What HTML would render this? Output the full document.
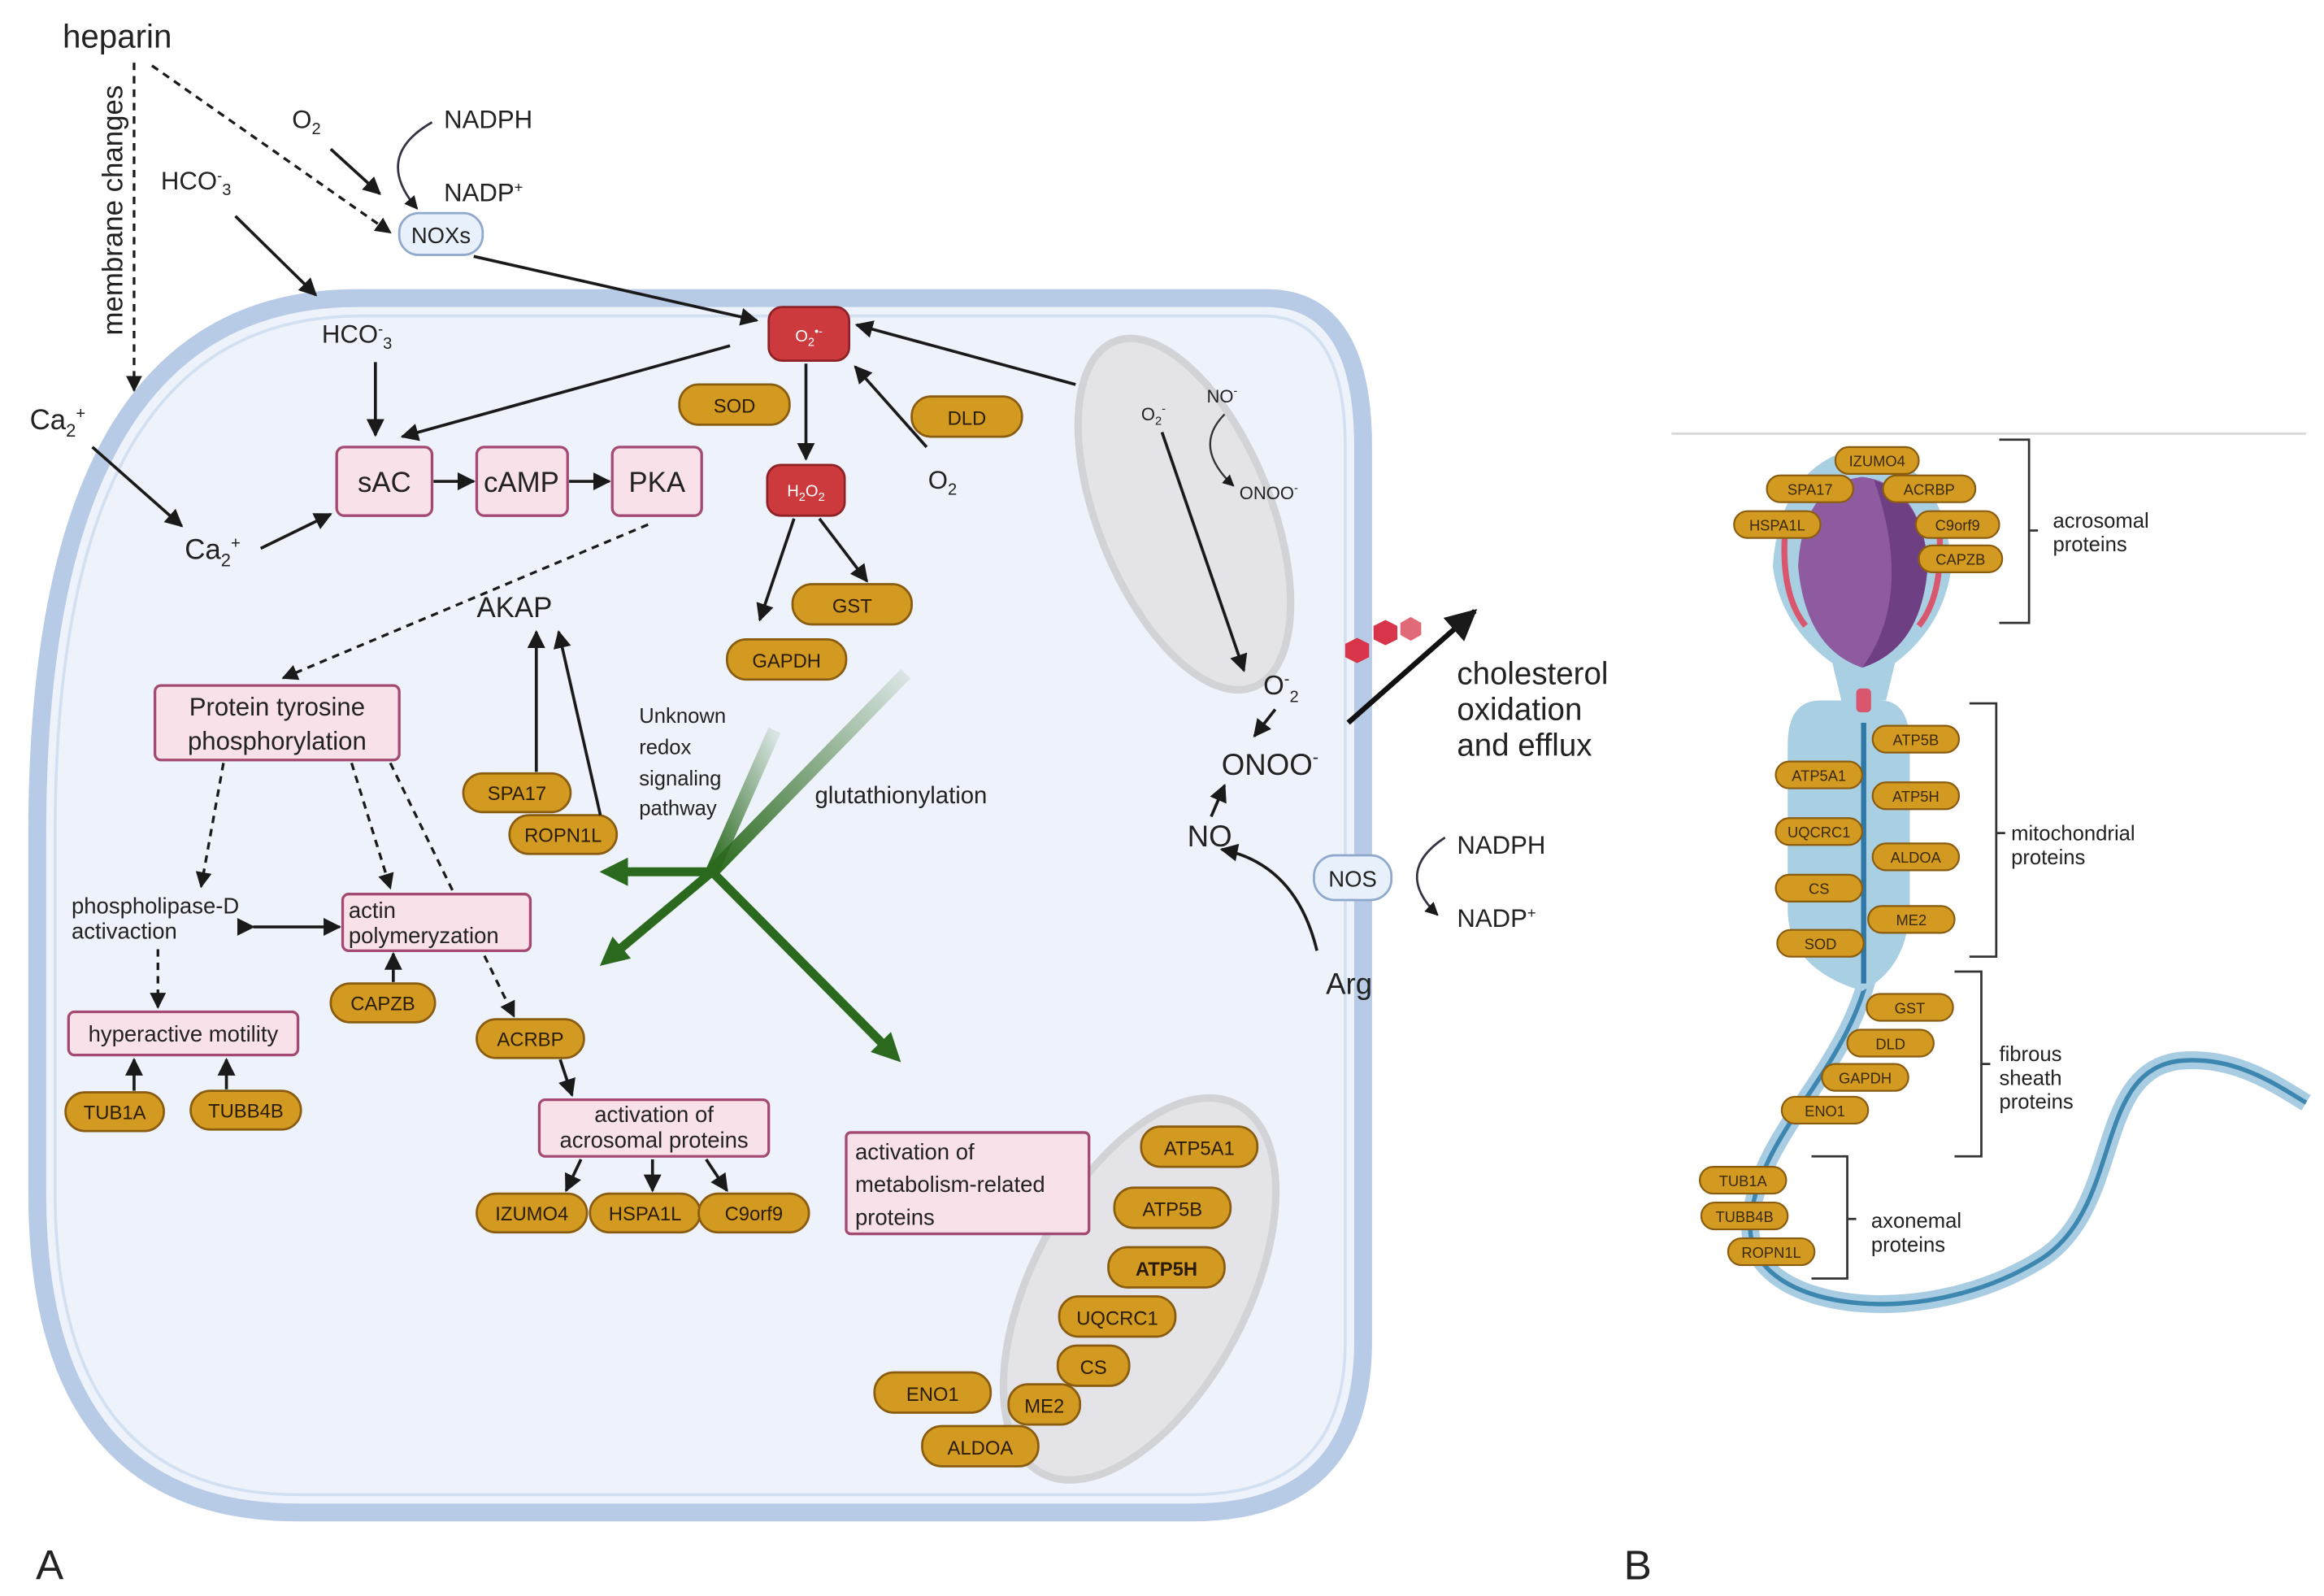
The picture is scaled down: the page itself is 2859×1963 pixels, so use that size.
<!DOCTYPE html>
<html><head><meta charset="utf-8"><style>
html,body{margin:0;padding:0;background:#fff}
svg{display:block}
text{font-family:"Liberation Sans",sans-serif;fill:#222}
.pill{fill:#d39a22;stroke:#8a5c10;stroke-width:1.5}
.pt{font-size:13px;text-anchor:middle;fill:#2a1c05}
.pk{fill:#f9e1ea;stroke:#a44a72;stroke-width:1.8}
.ar{stroke:#1a1a1a;stroke-width:2;fill:none;marker-end:url(#ah)}
.da{stroke:#1a1a1a;stroke-width:1.8;fill:none;stroke-dasharray:5,4;marker-end:url(#ah)}
.sp{fill:#d39a22;stroke:#8a5c10;stroke-width:1.2}
.st{font-size:10px;text-anchor:middle;fill:#3a2a08}
</style></head><body>
<svg width="2859" height="1963" viewBox="0 0 1560 1071" xmlns="http://www.w3.org/2000/svg">
<defs>
<marker id="ah" viewBox="0 0 10 10" refX="9" refY="5" markerWidth="6" markerHeight="6" orient="auto"><path d="M0,0 L10,5 L0,10 z" fill="#1a1a1a"/></marker>
<marker id="gh" viewBox="0 0 10 10" refX="5" refY="5" markerWidth="3.2" markerHeight="3.2" orient="auto"><path d="M0,0 L10,5 L0,10 z" fill="#2b6a1e"/></marker>
<linearGradient id="g1" x1="0" y1="1" x2="1" y2="0"><stop offset="0" stop-color="#2b6a1e"/><stop offset="1" stop-color="#2b6a1e" stop-opacity="0.1"/></linearGradient>
</defs>

<!-- cell -->
<path d="M240,200 L850,200 Q915,200 915,300 L915,900 Q915,1015 800,1015 L200,1015 Q25,1015 25,800 L25,560 Q25,200 240,200 Z" fill="#eef3fb" stroke="#b7cbe6" stroke-width="12"/>
<path d="M242,212 L848,212 Q903,212 903,300 L903,900 Q903,1003 800,1003 L200,1003 Q37,1003 37,800 L37,560 Q37,212 242,212 Z" fill="none" stroke="#d3e0f1" stroke-width="2"/>

<!-- mitochondria -->
<ellipse cx="795" cy="345" rx="58" ry="125" transform="rotate(-22 795 345)" fill="#e3e3e6" stroke="#d0d0d3" stroke-width="5" opacity="0.9"/>
<ellipse cx="765" cy="865" rx="72" ry="140" transform="rotate(28 765 865)" fill="#e3e3e6" stroke="#d0d0d3" stroke-width="5" opacity="0.9"/>

<!-- top text -->
<text x="42" y="32" font-size="22">heparin</text>
<text x="0" y="0" font-size="19" transform="translate(82,225) rotate(-90)">membrane changes</text>
<line x1="90" y1="42" x2="90" y2="262" class="da"/>
<line x1="102" y1="44" x2="262" y2="156" class="da"/>
<text x="196" y="86" font-size="17">O<tspan font-size="11" dy="4">2</tspan></text>
<line x1="222" y1="100" x2="255" y2="130" class="ar"/>
<text x="298" y="86" font-size="17">NADPH</text>
<text x="298" y="135" font-size="17">NADP<tspan font-size="10" dy="-6">+</tspan></text>
<path d="M290,82 Q250,105 280,140" stroke="#334" stroke-width="1.5" fill="none" marker-end="url(#ah)"/>
<rect x="268" y="143" width="56" height="28" rx="13" fill="#e8f0fb" stroke="#8fa8cc" stroke-width="1.5"/>
<text x="296" y="163" font-size="15" text-anchor="middle">NOXs</text>
<text x="108" y="127" font-size="17">HCO<tspan font-size="10" dy="-6">-</tspan><tspan font-size="11" dy="10">3</tspan></text>
<line x1="158" y1="145" x2="212" y2="198" class="ar"/>
<line x1="318" y1="172" x2="508" y2="215" class="ar"/>
<text x="216" y="230" font-size="17">HCO<tspan font-size="10" dy="-6">-</tspan><tspan font-size="11" dy="10">3</tspan></text>
<line x1="252" y1="243" x2="252" y2="292" class="ar"/>
<text x="20" y="288" font-size="19">Ca<tspan font-size="12" dy="5">2</tspan><tspan font-size="11" dy="-12">+</tspan></text>
<line x1="62" y1="300" x2="122" y2="353" class="ar"/>
<text x="124" y="375" font-size="19">Ca<tspan font-size="12" dy="5">2</tspan><tspan font-size="11" dy="-12">+</tspan></text>
<line x1="175" y1="368" x2="222" y2="345" class="ar"/>

<!-- sAC cAMP PKA -->
<rect x="226" y="300" width="64" height="46" rx="5" class="pk"/><text x="258" y="330" font-size="19" text-anchor="middle">sAC</text>
<rect x="320" y="300" width="61" height="46" rx="5" class="pk"/><text x="350" y="330" font-size="19" text-anchor="middle">cAMP</text>
<rect x="411" y="300" width="60" height="46" rx="5" class="pk"/><text x="441" y="330" font-size="19" text-anchor="middle">PKA</text>
<line x1="291" y1="323" x2="318" y2="323" class="ar"/>
<line x1="382" y1="323" x2="409" y2="323" class="ar"/>
<line x1="490" y1="232" x2="270" y2="293" class="ar"/>

<!-- ROS -->
<rect x="516" y="206" width="54" height="36" rx="9" fill="#cc3a3e" stroke="#8e2226" stroke-width="1.5"/>
<text x="543" y="229" font-size="11" text-anchor="middle" style="fill:#fff">O<tspan font-size="8" dy="3">2</tspan><tspan font-size="8" dy="-7">•-</tspan></text>
<rect x="515" y="312" width="52" height="34" rx="9" fill="#cc3a3e" stroke="#8e2226" stroke-width="1.5"/>
<text x="541" y="333" font-size="11" text-anchor="middle" style="fill:#fff">H<tspan font-size="8" dy="3">2</tspan><tspan dy="-3">O</tspan><tspan font-size="8" dy="3">2</tspan></text>
<line x1="541" y1="244" x2="541" y2="308" class="ar"/>
<line x1="533" y1="348" x2="510" y2="416" class="ar"/>
<line x1="550" y1="348" x2="582" y2="390" class="ar"/>
<line x1="622" y1="300" x2="574" y2="246" class="ar"/>
<line x1="722" y1="258" x2="575" y2="218" class="ar"/>
<text x="623" y="328" font-size="17">O<tspan font-size="11" dy="4">2</tspan></text>

<g>
<rect x="456" y="258" width="74" height="27" rx="13" class="pill"/><text x="493" y="277" class="pt">SOD</text>
<rect x="612" y="266" width="74" height="27" rx="13" class="pill"/><text x="649" y="285" class="pt">DLD</text>
<rect x="532" y="392" width="80" height="27" rx="13" class="pill"/><text x="572" y="411" class="pt">GST</text>
<rect x="488" y="429" width="80" height="27" rx="13" class="pill"/><text x="528" y="448" class="pt">GAPDH</text>
<rect x="311" y="519" width="72" height="26" rx="13" class="pill"/><text x="347" y="537" class="pt">SPA17</text>
<rect x="342" y="547" width="72" height="26" rx="13" class="pill"/><text x="378" y="565" class="pt">ROPN1L</text>
<rect x="222" y="660" width="70" height="26" rx="13" class="pill"/><text x="257" y="678" class="pt">CAPZB</text>
<rect x="320" y="684" width="72" height="26" rx="13" class="pill"/><text x="356" y="702" class="pt">ACRBP</text>
<rect x="44" y="733" width="66" height="26" rx="13" class="pill"/><text x="77" y="751" class="pt">TUB1A</text>
<rect x="128" y="732" width="74" height="26" rx="13" class="pill"/><text x="165" y="750" class="pt">TUBB4B</text>
<rect x="320" y="801" width="74" height="26" rx="13" class="pill"/><text x="357" y="819" class="pt">IZUMO4</text>
<rect x="396" y="801" width="74" height="26" rx="13" class="pill"/><text x="433" y="819" class="pt">HSPA1L</text>
<rect x="469" y="801" width="74" height="26" rx="13" class="pill"/><text x="506" y="819" class="pt">C9orf9</text>
<rect x="766" y="756" width="78" height="27" rx="13" class="pill"/><text x="805" y="775" class="pt">ATP5A1</text>
<rect x="748" y="797" width="78" height="27" rx="13" class="pill"/><text x="787" y="816" class="pt">ATP5B</text>
<rect x="744" y="837" width="78" height="27" rx="13" class="pill"/><text x="783" y="856" class="pt" font-weight="bold">ATP5H</text>
<rect x="711" y="870" width="78" height="27" rx="13" class="pill"/><text x="750" y="889" class="pt">UQCRC1</text>
<rect x="710" y="903" width="48" height="27" rx="13" class="pill"/><text x="734" y="922" class="pt">CS</text>
<rect x="677" y="929" width="48" height="27" rx="13" class="pill"/><text x="701" y="948" class="pt">ME2</text>
<rect x="587" y="921" width="78" height="27" rx="13" class="pill"/><text x="626" y="940" class="pt">ENO1</text>
<rect x="619" y="957" width="78" height="27" rx="13" class="pill"/><text x="658" y="976" class="pt">ALDOA</text>
</g>

<!-- AKAP -->
<text x="320" y="414" font-size="19">AKAP</text>
<line x1="360" y1="518" x2="360" y2="424" class="ar"/>
<line x1="403" y1="547" x2="375" y2="424" class="ar"/>
<line x1="435" y1="352" x2="190" y2="455" class="da"/>

<rect x="104" y="460" width="164" height="50" rx="4" class="pk"/>
<text x="186" y="480" font-size="17" text-anchor="middle">Protein tyrosine</text>
<text x="186" y="503" font-size="17" text-anchor="middle">phosphorylation</text>
<line x1="150" y1="512" x2="135" y2="595" class="da"/>
<line x1="236" y1="512" x2="262" y2="596" class="da"/>
<line x1="262" y1="512" x2="345" y2="682" class="da"/>
<text x="48" y="613" font-size="15">phospholipase-D</text>
<text x="48" y="630" font-size="15">activaction</text>
<line x1="170" y1="622" x2="228" y2="622" class="ar" marker-start="url(#ah)"/>
<rect x="230" y="600" width="126" height="38" rx="4" class="pk"/>
<text x="234" y="616" font-size="15">actin</text>
<text x="234" y="633" font-size="15">polymeryzation</text>
<line x1="264" y1="659" x2="264" y2="640" class="ar"/>
<line x1="106" y1="637" x2="106" y2="676" class="da"/>
<rect x="46" y="679" width="154" height="29" rx="4" class="pk"/>
<text x="123" y="699" font-size="15" text-anchor="middle">hyperactive motility</text>
<line x1="90" y1="732" x2="90" y2="711" class="ar"/>
<line x1="152" y1="731" x2="152" y2="711" class="ar"/>
<line x1="376" y1="711" x2="384" y2="735" class="ar"/>
<rect x="362" y="738" width="154" height="38" rx="4" class="pk"/>
<text x="439" y="753" font-size="15" text-anchor="middle">activation of</text>
<text x="439" y="770" font-size="15" text-anchor="middle">acrosomal proteins</text>
<line x1="390" y1="778" x2="380" y2="799" class="ar"/>
<line x1="438" y1="778" x2="438" y2="799" class="ar"/>
<line x1="474" y1="778" x2="488" y2="799" class="ar"/>
<rect x="568" y="760" width="163" height="68" rx="3" class="pk"/>
<text x="574" y="778" font-size="15">activation of</text>
<text x="574" y="800" font-size="15">metabolism-related</text>
<text x="574" y="822" font-size="15">proteins</text>

<!-- green arrows -->
<line x1="478" y1="585" x2="520" y2="490" stroke="url(#g1)" stroke-width="9"/>
<line x1="478" y1="585" x2="608" y2="452" stroke="url(#g1)" stroke-width="9"/>
<line x1="478" y1="585" x2="412" y2="585" stroke="#2b6a1e" stroke-width="6" marker-end="url(#gh)"/>
<line x1="478" y1="585" x2="410" y2="642" stroke="#2b6a1e" stroke-width="6" marker-end="url(#gh)"/>
<line x1="478" y1="585" x2="598" y2="706" stroke="#2b6a1e" stroke-width="6" marker-end="url(#gh)"/>
<text x="429" y="485" font-size="14">Unknown</text>
<text x="429" y="506" font-size="14">redox</text>
<text x="429" y="527" font-size="14">signaling</text>
<text x="429" y="547" font-size="14">pathway</text>
<text x="547" y="539" font-size="16">glutathionylation</text>

<!-- right side -->
<text x="766" y="282" font-size="12">O<tspan font-size="8" dy="3">2</tspan><tspan font-size="8" dy="-8">-</tspan></text>
<text x="810" y="270" font-size="12">NO<tspan font-size="8" dy="-5">-</tspan></text>
<text x="832" y="335" font-size="12">ONOO<tspan font-size="8" dy="-5">-</tspan></text>
<path d="M822,278 Q800,300 828,326" stroke="#333" stroke-width="1.3" fill="none" marker-end="url(#ah)"/>
<line x1="780" y1="290" x2="835" y2="450" class="ar"/>
<text x="848" y="466" font-size="18">O<tspan font-size="11" dy="-7">-</tspan><tspan font-size="11" dy="12">2</tspan></text>
<line x1="856" y1="476" x2="842" y2="494" class="ar"/>
<text x="820" y="520" font-size="20">ONOO<tspan font-size="12" dy="-8">-</tspan></text>
<text x="797" y="568" font-size="20">NO</text>
<line x1="813" y1="548" x2="822" y2="527" class="ar"/>
<path d="M884,638 Q870,580 820,570" class="ar"/>
<text x="890" y="667" font-size="20">Arg</text>
<rect x="882" y="574" width="52" height="30" rx="14" fill="#e8f0fb" stroke="#8fa8cc" stroke-width="1.5"/>
<text x="908" y="595" font-size="15" text-anchor="middle">NOS</text>
<path d="M970,562 Q935,585 965,614" stroke="#334" stroke-width="1.5" fill="none" marker-end="url(#ah)"/>
<text x="978" y="573" font-size="17">NADPH</text>
<text x="978" y="622" font-size="17">NADP<tspan font-size="10" dy="-6">+</tspan></text>
<line x1="905" y1="485" x2="990" y2="410" stroke="#111" stroke-width="3.5" marker-end="url(#ah)"/>
<g fill="#d8344a"><polygon points="903,432 911,428 919,432 919,441 911,445 903,441"/><polygon points="922,420 930,416 938,420 938,429 930,433 922,429"/><polygon points="940,418 947,414 954,418 954,426 947,430 940,426" fill="#e06a78"/></g>
<text x="978" y="459" font-size="21">cholesterol</text>
<text x="978" y="483" font-size="21">oxidation</text>
<text x="978" y="507" font-size="21">and efflux</text>

<text x="24" y="1060" font-size="28">A</text>
<text x="1090" y="1060" font-size="28">B</text>

<!-- panel B -->
<line x1="1122" y1="291" x2="1548" y2="291" stroke="#d8d8d8" stroke-width="1.5"/>
<path d="M1255,650 C1240,720 1180,760 1175,820 C1170,880 1290,895 1370,845 C1425,810 1405,720 1462,712 C1500,708 1528,728 1548,740" fill="none" stroke="#a8cde2" stroke-width="12"/>
<path d="M1255,650 C1240,720 1180,760 1175,820 C1170,880 1290,895 1370,845 C1425,810 1405,720 1462,712 C1500,708 1528,728 1548,740" fill="none" stroke="#3d86b0" stroke-width="3"/>
<path d="M1222,470 Q1200,470 1200,500 L1200,610 Q1200,650 1250,665 Q1280,650 1282,610 L1282,500 Q1282,470 1262,470 Z" fill="#a9cfe3"/>
<path d="M1250,300 Q1195,310 1190,380 Q1195,420 1230,445 L1236,470 L1266,470 L1272,445 Q1305,420 1310,380 Q1305,310 1250,300 Z" fill="#a9cfe3"/>
<path d="M1250,320 Q1210,325 1207,380 Q1212,435 1250,448 Q1290,435 1294,380 Q1290,325 1250,320 Z" fill="#8e5aa0"/>
<path d="M1258,322 Q1292,335 1294,380 Q1290,435 1250,448 Q1285,400 1258,322 Z" fill="#6f3f84"/>
<path d="M1198,360 Q1196,400 1212,420" stroke="#d8566e" stroke-width="4" fill="none"/>
<path d="M1302,360 Q1304,400 1288,420" stroke="#d8566e" stroke-width="4" fill="none"/>
<rect x="1246" y="462" width="10" height="16" rx="3" fill="#d8566e"/>
<line x1="1251" y1="485" x2="1251" y2="660" stroke="#2f78a6" stroke-width="3.5"/>
<g>
<rect x="1232" y="300" width="56" height="18" rx="9" class="sp"/><text x="1260" y="313" class="st">IZUMO4</text>
<rect x="1186" y="319" width="58" height="18" rx="9" class="sp"/><text x="1215" y="332" class="st">SPA17</text>
<rect x="1264" y="319" width="62" height="18" rx="9" class="sp"/><text x="1295" y="332" class="st">ACRBP</text>
<rect x="1164" y="343" width="58" height="18" rx="9" class="sp"/><text x="1193" y="356" class="st">HSPA1L</text>
<rect x="1286" y="343" width="56" height="18" rx="9" class="sp"/><text x="1314" y="356" class="st">C9orf9</text>
<rect x="1288" y="366" width="56" height="18" rx="9" class="sp"/><text x="1316" y="379" class="st">CAPZB</text>
<rect x="1257" y="487" width="58" height="18" rx="9" class="sp"/><text x="1286" y="500" class="st">ATP5B</text>
<rect x="1192" y="511" width="58" height="18" rx="9" class="sp"/><text x="1221" y="524" class="st">ATP5A1</text>
<rect x="1257" y="525" width="58" height="18" rx="9" class="sp"/><text x="1286" y="538" class="st">ATP5H</text>
<rect x="1192" y="549" width="58" height="18" rx="9" class="sp"/><text x="1221" y="562" class="st">UQCRC1</text>
<rect x="1257" y="566" width="58" height="18" rx="9" class="sp"/><text x="1286" y="579" class="st">ALDOA</text>
<rect x="1192" y="587" width="58" height="18" rx="9" class="sp"/><text x="1221" y="600" class="st">CS</text>
<rect x="1254" y="608" width="58" height="18" rx="9" class="sp"/><text x="1283" y="621" class="st">ME2</text>
<rect x="1193" y="624" width="58" height="18" rx="9" class="sp"/><text x="1222" y="637" class="st">SOD</text>
<rect x="1253" y="667" width="58" height="18" rx="9" class="sp"/><text x="1282" y="680" class="st">GST</text>
<rect x="1240" y="691" width="58" height="18" rx="9" class="sp"/><text x="1269" y="704" class="st">DLD</text>
<rect x="1223" y="714" width="58" height="18" rx="9" class="sp"/><text x="1252" y="727" class="st">GAPDH</text>
<rect x="1196" y="736" width="58" height="18" rx="9" class="sp"/><text x="1225" y="749" class="st">ENO1</text>
<rect x="1141" y="783" width="58" height="18" rx="9" class="sp"/><text x="1170" y="796" class="st">TUB1A</text>
<rect x="1142" y="807" width="58" height="18" rx="9" class="sp"/><text x="1171" y="820" class="st">TUBB4B</text>
<rect x="1160" y="831" width="58" height="18" rx="9" class="sp"/><text x="1189" y="844" class="st">ROPN1L</text>
</g>
<g stroke="#333" stroke-width="1.5" fill="none">
<path d="M1342,295 H1362 V418 H1342 M1362,356 H1368"/>
<path d="M1322,472 H1340 V642 H1322 M1340,559 H1346"/>
<path d="M1312,652 H1330 V776 H1312 M1330,714 H1336"/>
<path d="M1216,776 H1240 V858 H1216 M1240,818 H1246"/>
</g>
<text x="1378" y="354" font-size="14">acrosomal</text><text x="1378" y="370" font-size="14">proteins</text>
<text x="1350" y="564" font-size="14">mitochondrial</text><text x="1350" y="580" font-size="14">proteins</text>
<text x="1342" y="712" font-size="14">fibrous</text><text x="1342" y="728" font-size="14">sheath</text><text x="1342" y="744" font-size="14">proteins</text>
<text x="1256" y="824" font-size="14">axonemal</text><text x="1256" y="840" font-size="14">proteins</text>
</svg>
</body></html>
